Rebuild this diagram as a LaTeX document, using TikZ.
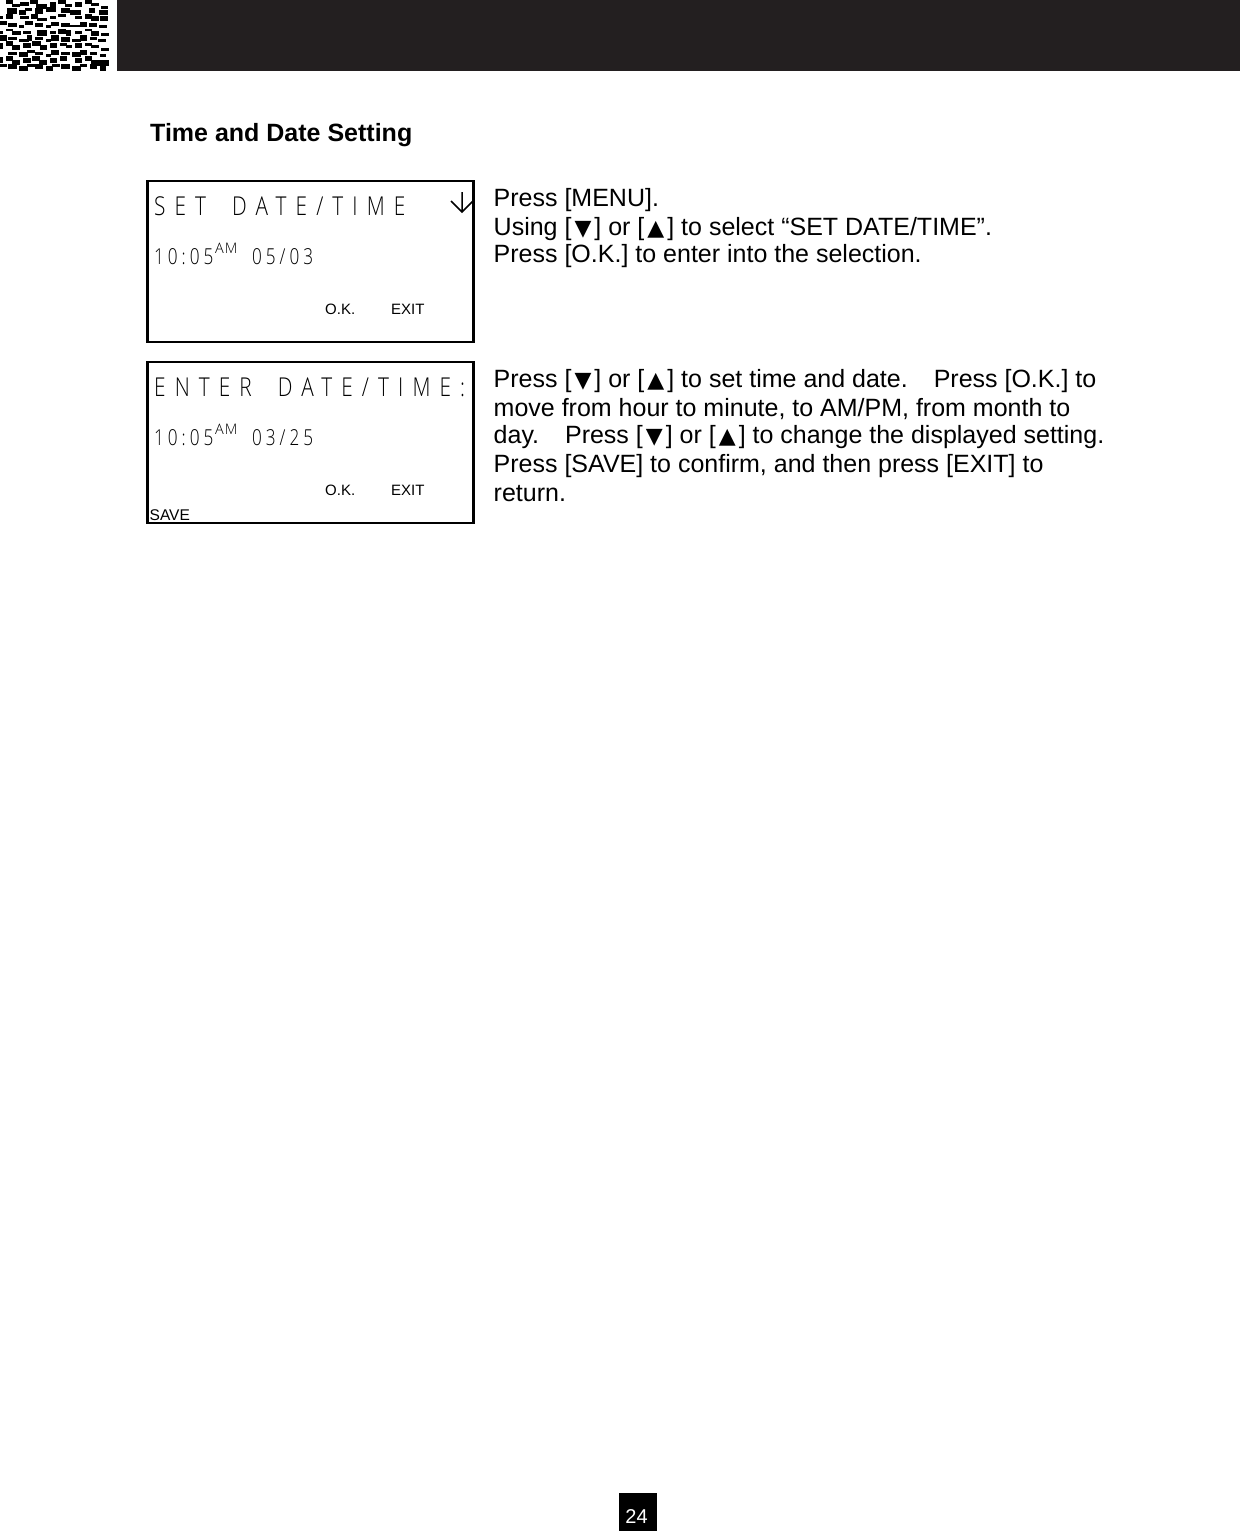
\documentclass[tikz,border=0pt]{standalone}
\usepackage{fontspec}
\setmainfont{Liberation Sans}
\newfontfamily\lcdbigfont[LetterSpace=35,WordSpace=1.8,FakeStretch=0.8]{Open Sans Light}
\newfontfamily\lcdsmallfont[LetterSpace=18,FakeStretch=0.78]{Open Sans Light}
\newfontfamily\lcdamfont[LetterSpace=6]{Open Sans Light}
\newfontfamily\symfont{DejaVu Sans}
\definecolor{barblack}{HTML}{231F20}
\tikzset{
  bodyline/.style={anchor=base west,inner sep=0pt,font=\fontsize{25}{28}\selectfont},
  softkey/.style={anchor=base west,inner sep=0pt,font=\fontsize{15}{18}\selectfont},
  lcdbig/.style={anchor=base west,inner sep=0pt,font=\lcdbigfont\fontsize{26}{30}\selectfont},
  lcdsmall/.style={anchor=base west,inner sep=0pt,font=\lcdsmallfont\fontsize{22}{24}\selectfont},
  lcdam/.style={anchor=base west,inner sep=0pt,font=\lcdamfont\fontsize{14.5}{16}\selectfont},
  lcdbox/.style={draw=black,line width=2.5pt},
}
\newcommand{\dn}{\hspace{3pt}{\symfont\fontsize{22}{22}\selectfont ▼}\hspace{3pt}}
\newcommand{\up}{\hspace{3pt}{\symfont\fontsize{22}{22}\selectfont ▲}\hspace{3pt}}
\begin{document}
\begin{tikzpicture}[x=1pt,y=-1pt]
  \useasboundingbox (0,0) rectangle (1240,1531);
  % header
  \fill[barblack] (117,0) rectangle (1240,71);
  \foreach \xa/\xb/\ya/\yb in {18/38/0/10,62/84/6/16,92/112/0/10,110/138/12/26,150/165/6/18,175/195/0/10,195/215/12/18,225/245/6/18,255/275/0/10,275/295/10/16,305/322/18/26,
    38/58/12/20,22/50/24/40,75/95/24/30,57/75/30/44,105/128/26/40,138/165/22/34,185/208/24/38,212/240/30/44,268/282/24/38,298/322/30/44,
    0/8/48/56,18/38/42/56,62/85/48/56,93/113/42/56,112/138/55/62,150/165/48/56,175/195/42/50,225/245/48/56,255/275/42/56,275/295/48/62,300/322/48/62,
    0/20/64/74,24/50/70/80,75/97/64/74,57/70/76/82,105/127/70/80,155/175/66/76,138/150/76/82,185/207/70/80,212/240/76/80,240/258/66/80,268/288/70/80,298/318/76/82,
    0/8/94/100,18/38/88/92,38/60/95/104,70/90/95/100,112/138/92/106,150/165/95/100,175/195/88/100,200/212/92/106,225/245/95/100,255/275/88/92,275/295/95/106,305/326/100/106,
    0/20/106/120,24/50/112/118,57/85/118/124,82/95/106/120,105/127/112/118,138/150/118/124,155/175/106/120,185/207/112/125,218/240/118/124,240/258/106/120,270/288/112/118,295/315/118/124,
    0/8/130/144,18/38/124/136,38/58/136/148,70/90/130/142,98/120/124/136,120/138/136/148,150/170/130/142,180/200/130/136,200/215/136/142,225/245/130/142,255/275/130/136,275/295/136/142,305/326/145/150,
    24/50/156/162,57/82/156/168,82/102/150/156,105/127/156/162,138/150/162/168,155/175/150/162,185/207/156/162,218/240/156/168,240/258/150/162,270/288/156/162,300/315/162/168,
    0/8/172/188,18/38/168/180,38/58/180/192,70/90/174/188,98/118/168/180,118/138/180/192,150/170/174/188,180/200/168/180,225/245/174/188,255/275/168/180,275/300/180/195,305/326/180/195,
    0/20/192/200,24/50/192/205,57/82/198/212,82/102/192/200,105/127/192/205,138/158/198/212,158/178/192/200,185/207/192/205,218/240/198/212,240/258/192/200,270/288/192/205,300/315/198/212}
    \filldraw[black,line width=0.6pt] (\xa/3,\ya/3) rectangle (\xb/3,\yb/3);
  % title
  \node[anchor=base west,inner sep=0pt,font=\bfseries\fontsize{25}{28}\selectfont] (title) at (150,141) {Time and Date Setting};
  % first screen
  \draw[lcdbox] (147.5,181) rectangle (473.5,342);
  \node[lcdbig] (setlabel) at (154,215) {SET DATE/TIME};
  \draw[line width=1.5pt] (462,192) -- (462,212) (451,201) -- (462,212) -- (473,201);
  \node[lcdsmall] (settime) at (154,264) {10:05};
  \node[lcdam] (setam) at (215,253) {AM};
  \node[lcdsmall] (setdate) at (252,264) {05/03};
  \node[softkey] (setok) at (325,314) {O.K.};
  \node[softkey] (setexit) at (391,314) {EXIT};
  % second screen
  \draw[lcdbox] (147.5,362) rectangle (473.5,523);
  \node[lcdbig] (enterlabel) at (154,396) {ENTER DATE/TIME:};
  \node[lcdsmall] (entertime) at (154,445) {10:05};
  \node[lcdam] (enteram) at (215,434) {AM};
  \node[lcdsmall] (enterdate) at (252,445) {03/25};
  \node[softkey] (enterok) at (325,495) {O.K.};
  \node[softkey] (enterexit) at (391,495) {EXIT};
  \node[softkey,font=\fontsize{15.5}{18}\selectfont] (entersave) at (149.5,520) {SAVE};
  % text on the right
  \node[bodyline] (menua) at (493.5,206) {Press [MENU].};
  \node[bodyline] (menub) at (493.5,235) {Using [\dn] or [\up] to select “SET DATE/TIME”.};
  \node[bodyline] (menuc) at (493.5,262) {Press [O.K.] to enter into the selection.};
  \node[bodyline] (seta) at (493.5,387) {Press [\dn] or [\up] to set time and date.\hspace{26pt}Press [O.K.] to};
  \node[bodyline] (setb) at (493.5,416) {move from hour to minute, to AM/PM, from month to};
  \node[bodyline] (setc) at (493.5,443) {day.\hspace{26pt}Press [\dn] or [\up] to change the displayed setting.};
  \node[bodyline] (setd) at (493.5,472) {Press [SAVE] to confirm, and then press [EXIT] to};
  \node[bodyline] (sete) at (493.5,501) {return.};
  % page number
  \node[fill=black,minimum width=38pt,minimum height=38pt,inner sep=0pt] (pagebox) at (638,1511.5) {};
  \node[anchor=base,text=white,inner sep=0pt,font=\fontsize{20}{24}\selectfont] (pagenum) at (636.5,1523.5) {24};
\end{tikzpicture}
\end{document}
